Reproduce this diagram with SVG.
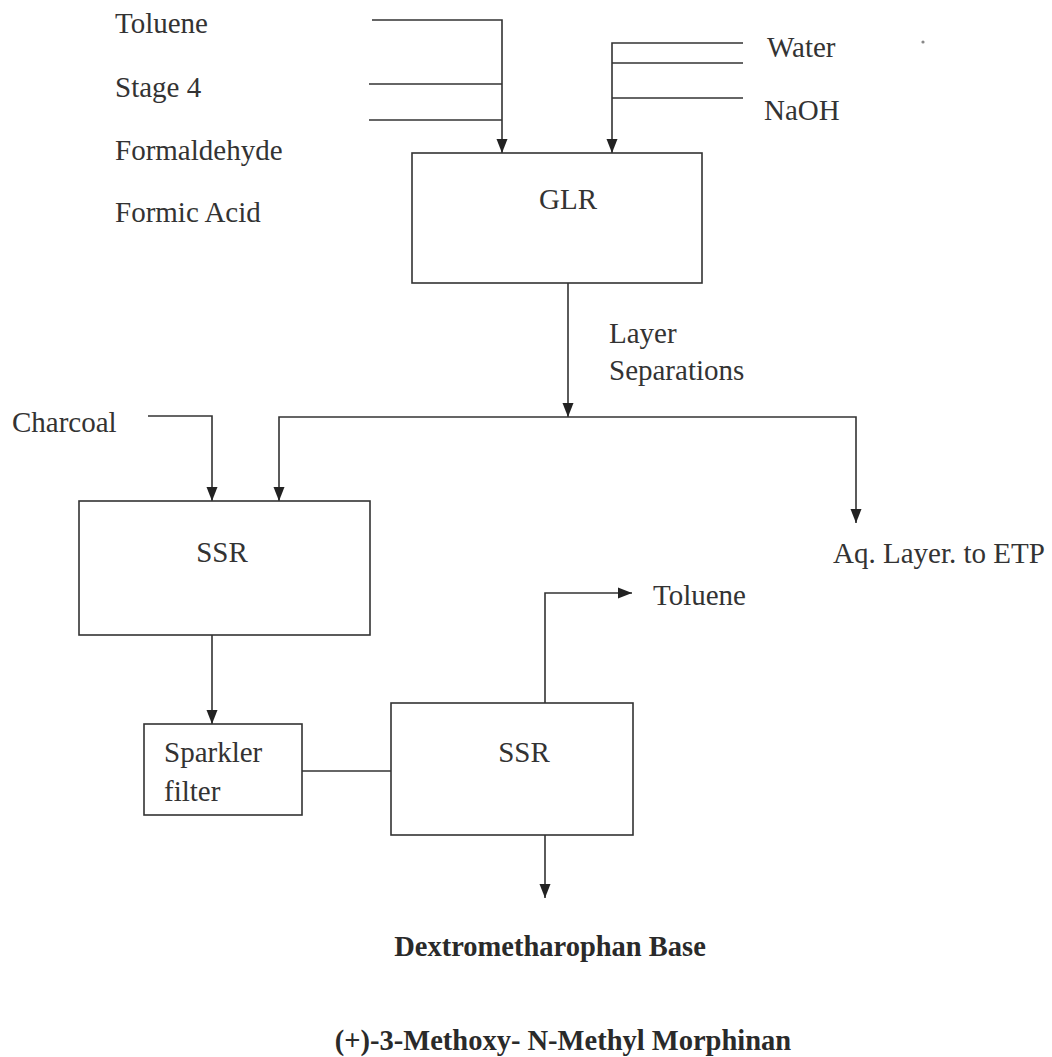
<svg xmlns="http://www.w3.org/2000/svg" width="1052" height="1057" viewBox="0 0 1052 1057">
<defs>
<style>
.t{font-family:"Liberation Serif","Times New Roman",serif;font-size:29px;fill:#333;}
.b{font-family:"Liberation Serif","Times New Roman",serif;font-size:28.5px;font-weight:bold;fill:#2a2a2a;}
.box{fill:#fff;stroke:#333;stroke-width:1.6;}
.ln{fill:none;stroke:#333;stroke-width:1.6;}
</style>
<marker id="ah" markerUnits="userSpaceOnUse" markerWidth="14" markerHeight="14" viewBox="0 0 14 14" refX="14" refY="7" orient="auto">
<path d="M0,1.5 L14,7 L0,12.5 Z" fill="#222"/>
</marker>
</defs>
<rect width="1052" height="1057" fill="#fff"/>
<g id="connectors">
<path class="ln" d="M372,20 H502 V153" marker-end="url(#ah)"/>
<path class="ln" d="M369,84 H502"/>
<path class="ln" d="M369,120 H502"/>
<path class="ln" d="M743,43 H612 V153" marker-end="url(#ah)"/>
<path class="ln" d="M743,63 H612"/>
<path class="ln" d="M743,98 H612"/>
<path class="ln" d="M568,283 V417" marker-end="url(#ah)"/>
<path class="ln" d="M568,417 H279 V501" marker-end="url(#ah)"/>
<path class="ln" d="M568,417 H856 V523" marker-end="url(#ah)"/>
<path class="ln" d="M148,416 H212 V501" marker-end="url(#ah)"/>
<path class="ln" d="M212,635 V724" marker-end="url(#ah)"/>
<path class="ln" d="M302,771 H391"/>
<path class="ln" d="M545,703 V593 H632" marker-end="url(#ah)"/>
<path class="ln" d="M545,835 V898" marker-end="url(#ah)"/>
</g>
<g id="inputs-left">
<text class="t" x="115" y="33">Toluene</text>
<text class="t" x="115" y="97">Stage 4</text>
<text class="t" x="115" y="160">Formaldehyde</text>
<text class="t" x="115" y="222">Formic Acid</text>
</g>
<g id="inputs-right">
<text class="t" x="767" y="57">Water</text>
<text class="t" x="764" y="120">NaOH</text>
<circle cx="923" cy="42" r="1.6" fill="#888"/>
</g>
<g id="glr">
<rect class="box" x="412" y="153" width="290" height="130"/>
<text class="t" x="568" y="209" text-anchor="middle">GLR</text>
</g>
<g id="layer-sep">
<text class="t" x="609" y="343">Layer</text>
<text class="t" x="609" y="380">Separations</text>
</g>
<g id="charcoal">
<text class="t" x="12" y="432">Charcoal</text>
</g>
<g id="aq-layer">
<text class="t" x="833" y="563">Aq. Layer. to ETP</text>
</g>
<g id="ssr1">
<rect class="box" x="79" y="501" width="291" height="134"/>
<text class="t" x="222" y="562" text-anchor="middle">SSR</text>
</g>
<g id="sparkler">
<rect class="box" x="144" y="724" width="158" height="91"/>
<text class="t" x="164" y="762">Sparkler</text>
<text class="t" x="164" y="801">filter</text>
</g>
<g id="ssr2">
<rect class="box" x="391" y="703" width="242" height="132"/>
<text class="t" x="524" y="762" text-anchor="middle">SSR</text>
</g>
<g id="toluene-out">
<text class="t" x="653" y="605">Toluene</text>
</g>
<g id="product">
<text class="b" x="550" y="956" text-anchor="middle">Dextrometharophan Base</text>
<text class="b" x="563" y="1050" text-anchor="middle">(+)-3-Methoxy- N-Methyl Morphinan</text>
</g>
</svg>
